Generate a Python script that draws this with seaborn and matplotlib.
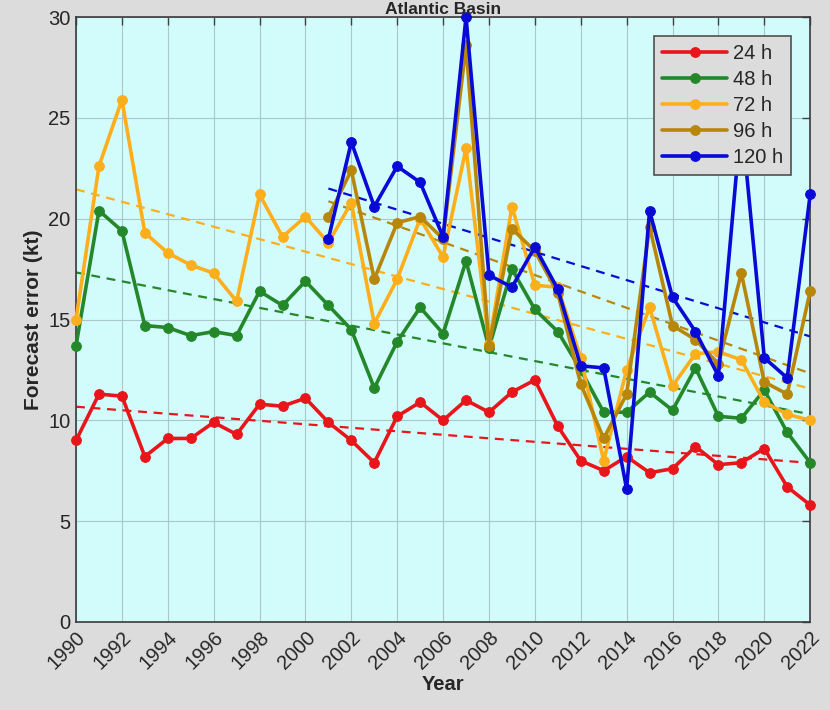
import numpy as np
import pandas as pd
import matplotlib
matplotlib.use('Agg')
import matplotlib.pyplot as plt
import seaborn as sns

# ---- data ----
years = list(range(1990, 2023))
years_late = list(range(2001, 2023))

err_24h = [9.0, 11.3, 11.2, 8.2, 9.1, 9.1, 9.9, 9.3, 10.8, 10.7, 11.1,
           9.9, 9.0, 7.9, 10.2, 10.9, 10.0, 11.0, 10.4, 11.4, 12.0,
           9.7, 8.0, 7.5, 8.2, 7.4, 7.6, 8.7, 7.8, 7.9, 8.6, 6.7, 5.8]
err_48h = [13.7, 20.4, 19.4, 14.7, 14.6, 14.2, 14.4, 14.2, 16.4, 15.7, 16.9,
           15.7, 14.5, 11.6, 13.9, 15.6, 14.3, 17.9, 13.6, 17.5, 15.5,
           14.4, 12.5, 10.4, 10.4, 11.4, 10.5, 12.6, 10.2, 10.1, 11.5, 9.4, 7.9]
err_72h = [15.0, 22.6, 25.9, 19.3, 18.3, 17.7, 17.3, 15.9, 21.2, 19.1, 20.1,
           18.8, 20.8, 14.8, 17.0, 20.0, 18.1, 23.5, 13.8, 20.6, 16.7,
           16.6, 13.1, 8.0, 12.5, 15.6, 11.7, 13.3, 13.4, 13.0, 10.9, 10.3, 10.0]
err_96h = [20.1, 22.4, 17.0, 19.8, 20.1, 19.0, 28.6, 13.7, 19.5, 18.4,
           16.3, 11.8, 9.1, 11.3, 19.6, 14.7, 14.0, 12.8, 17.3, 11.9, 11.3, 16.4]
err_120h = [19.0, 23.8, 20.6, 22.6, 21.8, 19.1, 30.0, 17.2, 16.6, 18.6,
            16.5, 12.7, 12.6, 6.6, 20.4, 16.1, 14.4, 12.2, 25.0, 13.1, 12.1, 21.2]

labels = ['24 h', '48 h', '72 h', '96 h', '120 h']
colors = ['#e8151b', '#24882a', '#fdae1c', '#b8860b', '#0a0ad6']

series = [(years, err_24h), (years, err_48h), (years, err_72h),
          (years_late, err_96h), (years_late, err_120h)]

# ---- style ----
sns.set_style('white')
plt.rcParams['font.family'] = ['Liberation Sans', 'DejaVu Sans']

fig = plt.figure(figsize=(8.3, 7.1), dpi=100)
fig.patch.set_facecolor('#dcdcdc')
ax = fig.add_axes([0.0916, 0.124, 0.8845, 0.852])
ax.set_facecolor('#d2fcfc')

for (x, y), lab, col in zip(series, labels, colors):
    df = pd.DataFrame({'year': x, 'err': y})
    sns.lineplot(data=df, x='year', y='err', ax=ax, color=col, lw=2.6,
                 marker='o', markersize=7, markeredgecolor=col,
                 label=lab, clip_on=False, zorder=3)
    # dashed linear trend
    sns.regplot(data=df, x='year', y='err', ax=ax, scatter=False, ci=None,
                color=col, line_kws={'ls': (0, (4, 3)), 'lw': 1.6, 'zorder': 2})

ax.set_xlim(1990, 2022)
ax.set_ylim(0, 30)
ax.set_xticks(range(1990, 2023, 2))
ax.set_yticks(range(0, 31, 5))
ax.set_xticklabels([str(v) for v in range(1990, 2023, 2)], rotation=45,
                   ha='right', rotation_mode='anchor')
ax.tick_params(direction='in', top=True, right=True, length=6, width=1,
               color='#404040', labelsize=14.5, pad=4)
ax.grid(True, color='#a9c8c8', lw=0.8)
for s in ax.spines.values():
    s.set_color('#3a3a3a')
    s.set_linewidth(1.2)

ax.set_xlabel('Year', fontsize=14.5, fontweight='bold', labelpad=2)
ax.set_ylabel('Forecast error (kt)', fontsize=15, fontweight='bold', labelpad=4)
ax.set_title('Atlantic Basin', fontsize=12.5, fontweight='bold', pad=2)

leg = ax.legend(loc='upper right', fontsize=14.5, frameon=True, fancybox=False,
                borderaxespad=0.95, handlelength=3.2, labelspacing=0.35,
                handletextpad=0.3)
leg.get_frame().set_facecolor('#dcdcdc')
leg.get_frame().set_edgecolor('#505050')
leg.get_frame().set_alpha(1)
leg.get_frame().set_linewidth(1.2)
leg.set_zorder(5)

plt.savefig('out.png', dpi=100, facecolor=fig.get_facecolor())
